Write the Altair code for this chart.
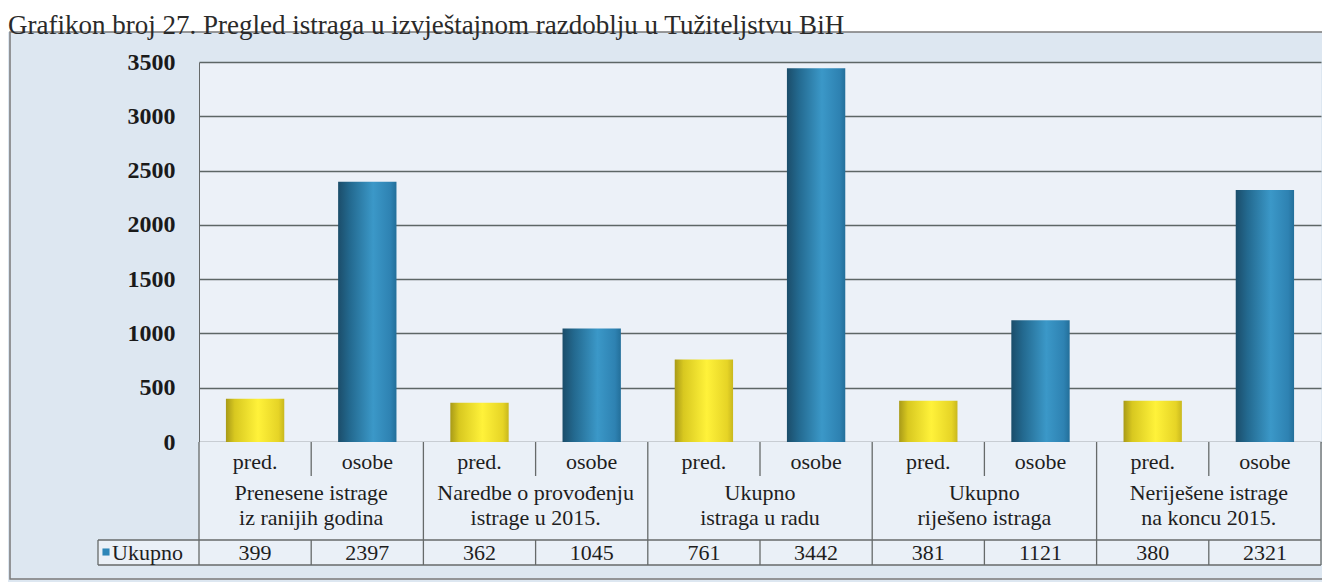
import altair as alt
import pandas as pd

# ---- data ----
title_text = "Grafikon broj 27. Pregled istraga u izvještajnom razdoblju u Tužiteljstvu BiH"
groups = [
    "Prenesene istrage\niz ranijih godina",
    "Naredbe o provođenju\nistrage u 2015.",
    "Ukupno\nistraga u radu",
    "Ukupno\nriješeno istraga",
    "Neriješene istrage\nna koncu 2015.",
]
sub_labels = ["pred.", "osobe"]
pred_values = [399, 362, 761, 381, 380]
osobe_values = [2397, 1045, 3442, 1121, 2321]
row_label = "Ukupno"
y_ticks = [0, 500, 1000, 1500, 2000, 2500, 3000, 3500]

# ---- tables built from the lists ----
rows = []
for g, name in enumerate(groups):
    for s, (lab, vals) in enumerate(zip(sub_labels, [pred_values, osobe_values])):
        col = 2 * g + s
        rows.append({"key": f"{g}-{lab}", "col": col, "pos": col + 0.5,
                     "series": lab, "value": vals[g], "label": str(vals[g])})
bars_df = pd.DataFrame(rows)
keys = list(bars_df["key"])
groups_df = pd.DataFrame({"name": groups, "pos": [2 * g + 1 for g in range(len(groups))]})
ncols = 2 * len(groups)
bounds_df = pd.DataFrame({"pos": list(range(0, ncols + 1, 2))})
seps_df = pd.DataFrame({"pos": list(range(1, ncols, 2))})
one = pd.DataFrame({"a": [0]})

W, H = 1122, 380
FONT = "Liberation Serif"
LINE = "#666a6a"
TXT = "#1e1e1e"
FS = 22
BOX_TOP = -30

xband = alt.X("key:N", scale=alt.Scale(domain=keys, paddingInner=0.48, paddingOuter=0.24), axis=None)
xq = alt.X("pos:Q", scale=alt.Scale(domain=[0, ncols], nice=False, zero=False), axis=None)
yq = alt.Y("value:Q", scale=alt.Scale(domain=[0, 3500], nice=False),
           axis=alt.Axis(values=y_ticks, format="d", title=None, ticks=False, domain=True,
                         domainColor=LINE, labelFont=FONT, labelFontSize=24,
                         labelFontWeight="bold", labelColor="#1a1a1a", labelPadding=24,
                         grid=True, gridColor="#5d6666", gridWidth=1.3))

yellow = {"gradient": "linear", "x1": 0, "x2": 1, "y1": 0, "y2": 0,
          "stops": [{"offset": 0, "color": "#a89a18"}, {"offset": 0.15, "color": "#d8c820"},
                    {"offset": 0.55, "color": "#fff23a"}, {"offset": 0.9, "color": "#e6d426"},
                    {"offset": 1, "color": "#c9b81e"}]}
blue = {"gradient": "linear", "x1": 0, "x2": 1, "y1": 0, "y2": 0,
        "stops": [{"offset": 0, "color": "#1b4d6a"}, {"offset": 0.2, "color": "#23698f"},
                  {"offset": 0.6, "color": "#3b98c8"}, {"offset": 0.9, "color": "#2e82b2"},
                  {"offset": 1, "color": "#236f9a"}]}

# background pieces
top_white = alt.Chart(one).mark_rect(fill="white").encode(
    x=alt.value(-191), x2=alt.value(W + 5), y=alt.value(-54), y2=alt.value(BOX_TOP))
table_bg = alt.Chart(one).mark_rect(fill="#eaf0f7").encode(
    x=alt.value(0), x2=alt.value(W), y=alt.value(H), y2=alt.value(503))
ukupno_bg = alt.Chart(one).mark_rect(fill="#eaf0f7").encode(
    x=alt.value(-101), x2=alt.value(0), y=alt.value(478), y2=alt.value(503))

bars_pred = alt.Chart(bars_df).transform_filter(alt.datum.series == "pred.").mark_bar(fill=yellow).encode(
    x=xband, y=yq)
bars_osobe = alt.Chart(bars_df).transform_filter(alt.datum.series == "osobe").mark_bar(fill=blue).encode(
    x=xband, y=yq)

# table lines
vbounds = alt.Chart(bounds_df).mark_rule(color=LINE, strokeWidth=1.3).encode(
    x=xq, y=alt.value(H), y2=alt.value(503))
vsep1 = alt.Chart(seps_df).mark_rule(color=LINE, strokeWidth=1.3).encode(
    x=xq, y=alt.value(H), y2=alt.value(414))
vsep2 = alt.Chart(seps_df).mark_rule(color=LINE, strokeWidth=1.3).encode(
    x=xq, y=alt.value(478), y2=alt.value(503))
hline1 = alt.Chart(one).mark_rule(color=LINE, strokeWidth=1.3).encode(
    x=alt.value(-101), x2=alt.value(W), y=alt.value(478))
hline2 = alt.Chart(one).mark_rule(color=LINE, strokeWidth=1.3).encode(
    x=alt.value(-101), x2=alt.value(W), y=alt.value(503))
vleft = alt.Chart(one).mark_rule(color=LINE, strokeWidth=1.3).encode(
    x=alt.value(-101), y=alt.value(478), y2=alt.value(503))

# table texts
sub_txt = alt.Chart(bars_df).mark_text(font=FONT, fontSize=FS, color=TXT, baseline="middle").encode(
    x=xq, y=alt.value(400), text="series:N")
grp_txt = alt.Chart(groups_df).mark_text(font=FONT, fontSize=FS, color=TXT, baseline="top",
                                         lineBreak="\n", lineHeight=25).encode(
    x=xq, y=alt.value(421), text="name:N")
val_txt = alt.Chart(bars_df).mark_text(font=FONT, fontSize=FS, color=TXT, baseline="middle").encode(
    x=xq, y=alt.value(491), text="label:N")
uk_sq = alt.Chart(one).mark_square(size=50, color="#2e86b8", opacity=1).encode(
    x=alt.value(-93), y=alt.value(490))
uk_txt = alt.Chart(one).transform_calculate(t=f"'{row_label}'").mark_text(
    font=FONT, fontSize=FS, color=TXT, align="left", baseline="middle").encode(
    x=alt.value(-87), y=alt.value(491), text="t:N")

border = alt.Chart(one).mark_rect(fill="transparent", stroke="#7a7a7a", strokeWidth=1.5).encode(
    x=alt.value(-189), x2=alt.value(W + 4), y=alt.value(BOX_TOP), y2=alt.value(517))

title = alt.Chart(one).transform_calculate(t=f"'{title_text}'").mark_text(
    font=FONT, fontSize=27, color="#2a2a2a", align="left", baseline="alphabetic").encode(
    x=alt.value(-191), y=alt.value(-28), text="t:N")

chart = alt.layer(
    top_white, table_bg, ukupno_bg, bars_pred, bars_osobe,
    vbounds, vsep1, vsep2, hline1, hline2, vleft,
    sub_txt, grp_txt, val_txt, uk_sq, uk_txt, border, title,
).resolve_scale(x="independent").properties(
    width=W, height=H,
    padding={"left": 191, "top": 54, "right": 1, "bottom": 140},
    autosize=alt.AutoSizeParams(type="none"),
    background="#dde7f1",
).configure_view(fill="#ecf1f8", strokeWidth=0)

chart.save("out.html", embed_options={"renderer": "svg", "actions": False})
